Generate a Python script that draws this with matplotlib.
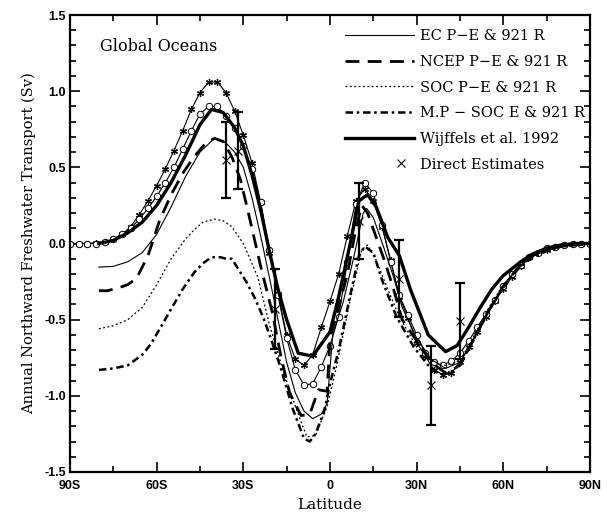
import matplotlib
matplotlib.use("Agg")
import matplotlib.pyplot as plt
import numpy as np
from matplotlib.legend_handler import HandlerLine2D
from matplotlib.ticker import MultipleLocator

# grid for the two marker curves
lat_grid = np.arange(-90, 91, 3)

star_vals = [0.00, 0.00, 0.00, 0.005, 0.01, 0.03, 0.06, 0.11, 0.19, 0.28,
             0.38, 0.49, 0.61, 0.74, 0.88, 0.99, 1.06, 1.06, 0.99, 0.87,
             0.71, 0.53, 0.27, -0.06, -0.33, -0.60, -0.76, -0.80, -0.73, -0.55,
             -0.38, -0.20, 0.05, 0.28, 0.36, 0.28, 0.11, -0.11, -0.35, -0.49,
             -0.65, -0.74, -0.83, -0.86, -0.85, -0.78, -0.68, -0.58, -0.48, -0.38,
             -0.30, -0.22, -0.15, -0.09, -0.06, -0.04, -0.02, -0.01, 0.00, 0.00, 0.00]

circ_vals = [0.00, 0.00, 0.00, 0.00, 0.01, 0.03, 0.06, 0.10, 0.16, 0.23,
             0.31, 0.40, 0.50, 0.62, 0.74, 0.85, 0.90, 0.90, 0.84, 0.76,
             0.64, 0.49, 0.27, -0.04, -0.34, -0.62, -0.83, -0.93, -0.92, -0.81,
             -0.67, -0.48, -0.12, 0.26, 0.40, 0.33, 0.12, -0.12, -0.34, -0.47,
             -0.60, -0.72, -0.78, -0.80, -0.77, -0.72, -0.64, -0.55, -0.46, -0.37,
             -0.28, -0.20, -0.14, -0.09, -0.06, -0.03, -0.02, -0.01, 0.00, 0.00, 0.00]

# EC P-E & 921 R
lat_ec = [-80, -75, -70, -65, -60, -55, -50, -45, -40, -36, -33, -30, -27, -24, -21,
          -18, -15, -12, -9, -6, -3, -1, 1, 4.5, 8, 11.5, 12.7, 15, 18.5, 22, 25,
          30, 35, 40, 45, 50, 55, 60, 65, 70, 75, 80, 85, 90]
ec_vals = [-0.155, -0.15, -0.12, -0.06, 0.06, 0.24, 0.44, 0.60, 0.69, 0.66, 0.60, 0.50, 0.30, 0.05, -0.22,
           -0.50, -0.78, -0.98, -1.10, -1.15, -1.12, -1.05, -0.59, -0.39, -0.11, 0.20, 0.23, 0.17, -0.02, -0.22, -0.42,
           -0.62, -0.76, -0.82, -0.78, -0.62, -0.44, -0.28, -0.16, -0.08, -0.04, -0.02, -0.01, 0.00]

# NCEP P-E & 921 R
lat_ncep = [-80, -77, -73, -70, -67, -63, -59, -55, -51, -47, -43, -40, -37, -34, -31,
            -28, -24, -20, -17, -14, -10, -7, -4, -1, 0, 3, 6, 9, 11, 13, 16, 19, 22, 25,
            30, 35, 40, 45, 50, 55, 60, 65, 70, 75, 80, 85, 90]
ncep_vals = [-0.31, -0.31, -0.29, -0.27, -0.23, -0.08, 0.15, 0.32, 0.46, 0.57, 0.66, 0.69, 0.67, 0.57, 0.42,
             0.18, -0.15, -0.45, -0.74, -0.98, -1.13, -1.12, -0.96, -0.97, -0.62, -0.42, -0.20, 0.10, 0.25, 0.20, 0.04, -0.12, -0.30, -0.50,
             -0.64, -0.78, -0.85, -0.80, -0.62, -0.44, -0.28, -0.16, -0.08, -0.04, -0.02, -0.01, 0.00]

# SOC P-E & 921 R
lat_soc = [-80, -75, -70, -65, -60, -55, -50, -47, -44, -40, -37, -34, -30, -25, -21,
           -16, -11, -8, -5, -1, 2, 7, 11, 13, 16, 20, 24, 30, 35, 40, 45, 50, 55,
           60, 65, 70, 75, 80, 85, 90]
soc_vals = [-0.56, -0.54, -0.50, -0.42, -0.27, -0.10, 0.03, 0.09, 0.14, 0.16, 0.15, 0.11, 0.00, -0.22, -0.53,
            -0.85, -1.12, -1.27, -1.26, -1.07, -0.83, -0.37, -0.04, -0.01, -0.11, -0.30, -0.48, -0.68, -0.77, -0.80, -0.77, -0.60, -0.42,
            -0.27, -0.16, -0.09, -0.05, -0.02, -0.01, 0.00]

# M.P - SOC E & 921 R
lat_mp = [-80, -75, -70, -65, -62, -58, -55, -51, -47, -44, -41, -38, -36, -34, -32,
          -29, -26, -23, -20, -17, -13, -9, -7, -5, -2, 0, 3, 7, 10, 12, 15, 18, 23,
          29, 34, 38, 42, 46, 50, 55, 60, 65, 70, 75, 80, 85, 90]
mp_vals = [-0.83, -0.82, -0.80, -0.73, -0.66, -0.53, -0.43, -0.30, -0.19, -0.13, -0.09, -0.09, -0.10, -0.10, -0.16,
           -0.25, -0.36, -0.49, -0.65, -0.82, -1.08, -1.28, -1.30, -1.25, -1.10, -0.92, -0.70, -0.34, -0.08, -0.02, -0.06, -0.24, -0.48,
           -0.68, -0.80, -0.86, -0.85, -0.76, -0.62, -0.44, -0.29, -0.17, -0.09, -0.05, -0.02, -0.01, 0.00]

# Wijffels et al. 1992
lat_w = [-80, -75, -70, -65, -60, -55, -50, -45, -41, -37, -33, -30, -27, -24, -21,
         -18, -15, -11, -6, -3, 0, 3, 7, 10, 13, 16, 20, 24, 28, 34, 40, 44, 48,
         52, 56, 60, 66, 70, 75, 80, 85, 90]
w_vals = [0.00, 0.02, 0.07, 0.14, 0.25, 0.40, 0.58, 0.78, 0.88, 0.86, 0.76, 0.64, 0.45, 0.22, -0.05,
          -0.30, -0.50, -0.72, -0.74, -0.66, -0.58, -0.35, 0.00, 0.28, 0.32, 0.24, 0.04, -0.08, -0.31, -0.60, -0.71, -0.67, -0.55,
          -0.42, -0.30, -0.21, -0.12, -0.07, -0.03, -0.01, 0.00, 0.00]

# direct estimates with error bars
lat_de = [-36, -32, -19, 10, 24, 35, 45]
de_vals = [0.55, 0.61, -0.43, 0.15, -0.23, -0.93, -0.51]
de_err = [0.25, 0.25, 0.26, 0.25, 0.25, 0.26, 0.25]

xticks = [-90, -60, -30, 0, 30, 60, 90]
xticklabels = ["90S", "60S", "30S", "0", "30N", "60N", "90N"]
yticks = [-1.5, -1.0, -0.5, 0.0, 0.5, 1.0, 1.5]


class RightMarker(HandlerLine2D):
    def get_xdata(self, legend, xdescent, ydescent, width, height, fontsize):
        x = [-xdescent + 0.82 * width]
        return x, x


serif = "DejaVu Serif"
fig = plt.figure(figsize=(6.07, 5.12), dpi=100)
ax = fig.add_axes([70 / 607, 40 / 512, 520 / 607, 457 / 512])

ax.plot(lat_grid, star_vals, color="black", lw=0.8, marker=(6, 2, 0), ms=5, mew=0.9)
ax.plot(lat_grid, circ_vals, color="black", lw=0.8, marker="o", ms=4.6, mfc="white", mew=0.7)

ax.plot(lat_ec, ec_vals, color="black", lw=0.8, label="EC P\u2212E & 921 R")
ax.plot(lat_ncep, ncep_vals, color="black", lw=2.0, ls=(0, (5, 3)), label="NCEP P\u2212E & 921 R")
ax.plot(lat_soc, soc_vals, color="black", lw=0.9, ls=(0, (1.5, 2)), label="SOC P\u2212E & 921 R")
ax.plot(lat_mp, mp_vals, color="black", lw=1.8, ls=(0, (3, 1.5, 1, 1.5)), label="M.P \u2212 SOC E & 921 R")
ax.plot(lat_w, w_vals, color="black", lw=2.4, label="Wijffels et al. 1992")

ax.errorbar(lat_de, de_vals, yerr=de_err, fmt="none", ecolor="black", elinewidth=1.6,
            capsize=3.5, capthick=1.6)
xmark, = ax.plot(lat_de, de_vals, ls="none", marker="x", color="black", ms=5.5, mew=0.8,
                 label="Direct Estimates")

ax.set_xlim(-90, 90)
ax.set_ylim(-1.5, 1.5)
ax.set_xticks(xticks)
ax.set_xticklabels(xticklabels)
ax.set_yticks(yticks)
ax.set_yticklabels(["%.1f" % v for v in yticks])
ax.xaxis.set_minor_locator(MultipleLocator(15))
ax.yaxis.set_minor_locator(MultipleLocator(0.1))
ax.tick_params(which="both", direction="in", top=True, right=True, width=1.2)
ax.tick_params(which="major", length=7)
ax.tick_params(which="minor", length=4)
ax.tick_params(axis="x", pad=6)
ax.tick_params(axis="y", pad=3)
for lab in ax.get_xticklabels() + ax.get_yticklabels():
    lab.set_fontfamily("Liberation Sans")
    lab.set_fontweight("bold")
    lab.set_fontsize(9)
for sp in ax.spines.values():
    sp.set_linewidth(1.6)

ax.set_xlabel("Latitude", family=serif, fontsize=11, labelpad=4)
ax.set_ylabel("Annual Northward Freshwater Transport (Sv)", family=serif, fontsize=10.5, labelpad=6)

ax.text(0.058, 0.932, "Global Oceans", transform=ax.transAxes, family=serif, fontsize=11.5,
        va="center", ha="left")

ax.legend(loc="upper left", bbox_to_anchor=(0.529, 0.969), frameon=False,
          prop={"family": serif, "size": 10.5}, handlelength=4.7, handletextpad=0.45,
          labelspacing=0.8, borderpad=0, borderaxespad=0,
          handler_map={xmark: RightMarker()})

fig.savefig("out.png", dpi=100)
